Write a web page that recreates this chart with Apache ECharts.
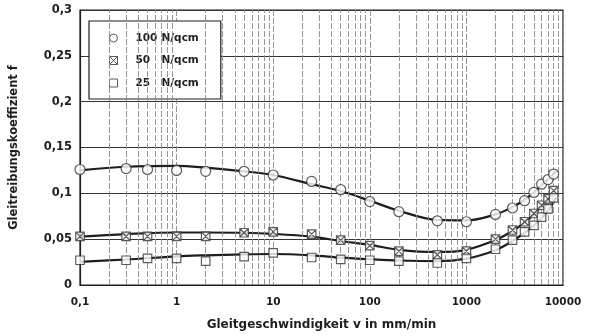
<!DOCTYPE html>
<html>
<head>
<meta charset="utf-8">
<script src="https://cdn.jsdelivr.net/npm/echarts@6/dist/echarts.min.js"></script>
<style>
html,body{margin:0;padding:0;background:#fff;}
#c{width:589px;height:336px;}
</style>
</head>
<body>
<div id="c"></div>
<script>
// ---- measured points (markers) ----
var pointsX = [0.1, 0.3, 0.5, 1, 2, 5, 10, 25, 50, 100, 200, 500, 1000, 2000, 3000, 4000, 5000, 6000, 7000, 8000];
var points100 = [0.126, 0.127, 0.126, 0.125, 0.124, 0.124, 0.120, 0.113, 0.104, 0.091, 0.080, 0.070, 0.069, 0.077, 0.084, 0.092, 0.101, 0.110, 0.115, 0.121];
var points50  = [0.053, 0.053, 0.053, 0.053, 0.053, 0.057, 0.058, 0.0555, 0.049, 0.043, 0.037, 0.033, 0.037, 0.050, 0.060, 0.069, 0.078, 0.087, 0.094, 0.103];
var points25  = [0.027, 0.027, 0.029, 0.029, 0.026, 0.031, 0.035, 0.030, 0.028, 0.027, 0.026, 0.024, 0.029, 0.039, 0.049, 0.058, 0.065, 0.074, 0.083, 0.095];

// ---- fitted curves ----
var curveX   = [0.1, 0.3, 1, 2, 5, 10, 25, 50, 100, 200, 500, 1000, 2000, 3000, 4000, 5000, 6000, 7000, 8000, 8500];
var curve100 = [0.125, 0.129, 0.130, 0.128, 0.124, 0.120, 0.110, 0.1025, 0.092, 0.081, 0.071, 0.0705, 0.077, 0.085, 0.093, 0.101, 0.109, 0.115, 0.121, 0.124];
var curve50  = [0.0527, 0.0555, 0.0573, 0.0573, 0.057, 0.0558, 0.0527, 0.048, 0.0438, 0.0384, 0.036, 0.0384, 0.049, 0.059, 0.068, 0.077, 0.086, 0.093, 0.101, 0.105];
var curve25  = [0.0253, 0.0278, 0.0313, 0.0324, 0.0334, 0.0338, 0.0324, 0.0299, 0.0281, 0.0267, 0.026, 0.0288, 0.038, 0.048, 0.057, 0.065, 0.073, 0.081, 0.090, 0.096];

var seriesNames = ['100 N/qcm', '50 N/qcm', '25 N/qcm'];
var xTickLabels = ['0,1', '1', '10', '100', '1000', '10000'];
var yTickLabels = ['0', '0,05', '0,1', '0,15', '0,2', '0,25', '0,3'];

// minor vertical grid (2..9 of each decade)
var minorLines = [];
[0.1, 1, 10, 100, 1000].forEach(function (d) {
  for (var m = 2; m <= 9; m++) minorLines.push({ xAxis: +(d * m).toPrecision(6) });
});

function zip(xs, ys) { return xs.map(function (x, i) { return [x, ys[i]]; }); }

var FONT = 'DejaVu Sans';
var INK = '#1e1e1e';
var crossSquare = 'path://M0,0L10,0L10,10L0,10Z M0,0L10,10 M10,0L0,10';
var symbols = ['circle', crossSquare, 'rect'];
var pts = [points100, points50, points25];
var curves = [curve100, curve50, curve25];

var series = [];
curves.forEach(function (c, i) {
  var s = {
    name: 'curve' + i, type: 'line', data: zip(curveX, c), smooth: 0.35,
    showSymbol: false, symbol: 'none', silent: true, z: 3,
    lineStyle: { color: INK, width: 2.2 }
  };
  if (i === 0) {
    s.markLine = {
      silent: true, symbol: 'none', animation: false, label: { show: false },
      lineStyle: { color: '#8a8a8a', width: 0.9, type: [6, 2] },
      data: minorLines
    };
  }
  series.push(s);
});
pts.forEach(function (p, i) {
  series.push({
    name: seriesNames[i], type: 'scatter', data: zip(pointsX, p),
    symbol: symbols[i], symbolSize: i === 0 ? 10 : 8.5, z: 5,
    itemStyle: { color: '#fff', borderColor: '#333', borderWidth: 1.2 }
  });
});

var chart = echarts.init(document.getElementById('c'), null, { renderer: 'canvas' });
chart.setOption({
  animation: false,
  backgroundColor: '#fff',
  grid: { left: 79, right: 26, top: 10, bottom: 45, show: true, borderColor: INK, borderWidth: 1.2, backgroundColor: 'transparent' },
  legend: {
    data: seriesNames, orient: 'vertical', left: 89, top: 21,
    padding: [11, 22, 10, 20], itemGap: 10.5, itemWidth: 8, itemHeight: 8,
    backgroundColor: '#fff', borderColor: INK, borderWidth: 1.2,
    itemStyle: { borderWidth: 1 },
    formatter: function (n) {
      var parts = n.split(' ');
      return '{s|}{a|' + parts[0] + '}{b|' + parts[1] + '}';
    },
    textStyle: {
      rich: {
        s: { width: 13 },
        a: { width: 26, fontFamily: FONT, fontWeight: 'bold', fontSize: 10.5, color: INK },
        b: { fontFamily: FONT, fontWeight: 'bold', fontSize: 10.5, color: INK }
      }
    }
  },
  xAxis: {
    type: 'log', logBase: 10, min: 0.1, max: 10000,
    name: 'Gleitgeschwindigkeit v in mm/min', nameLocation: 'middle', nameGap: 34,
    nameTextStyle: { fontFamily: FONT, fontWeight: 'bold', fontSize: 12, color: INK },
    axisLine: { lineStyle: { color: INK, width: 1.2 } },
    axisTick: { show: false },
    axisLabel: {
      margin: 12, fontFamily: FONT, fontWeight: 'bold', fontSize: 10.5, color: INK,
      formatter: function (v) {
        var idx = Math.round(Math.log10(v) + 1);
        return xTickLabels[idx] !== undefined ? xTickLabels[idx] : '';
      }
    },
    splitLine: { show: true, lineStyle: { color: '#8a8a8a', width: 0.9, type: [6, 2] } }
  },
  yAxis: {
    type: 'value', min: 0, max: 0.3, interval: 0.05,
    name: 'Gleitreibungskoeffizient f', nameLocation: 'middle', nameGap: 60,
    nameTextStyle: { fontFamily: FONT, fontWeight: 'bold', fontSize: 11.5, color: INK },
    axisLine: { show: true, lineStyle: { color: INK, width: 1.2 } },
    axisTick: { show: false },
    axisLabel: {
      margin: 8, fontFamily: FONT, fontWeight: 'bold', fontSize: 11.5, color: INK,
      formatter: function (v) {
        var idx = Math.round(v / 0.05);
        return yTickLabels[idx] !== undefined ? yTickLabels[idx] : '';
      }
    },
    splitLine: { show: true, lineStyle: { color: '#333', width: 1.1 } }
  },
  series: series
});
</script>
</body>
</html>
